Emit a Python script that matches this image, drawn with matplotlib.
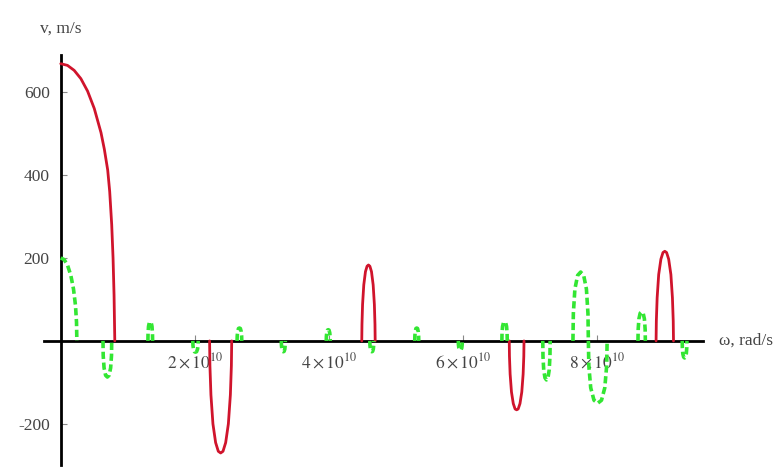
import matplotlib
matplotlib.use("Agg")
import matplotlib.pyplot as plt

plt.rcParams["font.family"] = ["Liberation Serif", "DejaVu Serif"]
plt.rcParams["mathtext.fontset"] = "stix"

# omega in units of 1e10 rad/s, v in m/s; one list per lobe
red_w = [
    [0, 0.1, 0.2, 0.3, 0.4, 0.5, 0.6, 0.65, 0.7, 0.73, 0.76, 0.78, 0.795, 0.806],
    [2.22, 2.225, 2.24, 2.27, 2.31, 2.35, 2.385, 2.42, 2.46, 2.50, 2.53, 2.545, 2.55],
    [4.49, 4.493, 4.502, 4.52, 4.545, 4.569, 4.59, 4.611, 4.635, 4.66, 4.678, 4.687, 4.69],
    [6.69, 6.693, 6.703, 6.723, 6.75, 6.777, 6.80, 6.823, 6.85, 6.877, 6.897, 6.907, 6.91],
    [8.88, 8.884, 8.896, 8.919, 8.952, 8.983, 9.01, 9.037, 9.068, 9.101, 9.124, 9.136, 9.14],
]
red_v = [
    [668, 664, 652, 632, 602, 560, 502, 462, 412, 360, 280, 200, 110, 0],
    [0, -60, -130, -200, -245, -266, -270, -266, -245, -200, -130, -60, 0],
    [0, 40, 88, 135, 167, 180, 183, 180, 167, 135, 88, 40, 0],
    [0, -37, -80, -123, -151, -164, -166, -164, -151, -123, -80, -37, 0],
    [0, 48, 104, 160, 197, 213, 216, 213, 197, 160, 104, 48, 0],
]

green_w = [
    [0, 0.05, 0.1, 0.15, 0.19, 0.22, 0.235, 0.24],
    [0.63, 0.633, 0.646, 0.669, 0.695, 0.721, 0.744, 0.757, 0.76],
    [1.30, 1.302, 1.309, 1.321, 1.335, 1.349, 1.361, 1.368, 1.37],
    [1.97, 1.972, 1.98, 1.994, 2.01, 2.026, 2.04, 2.048, 2.05],
    [2.63, 2.632, 2.639, 2.651, 2.665, 2.679, 2.691, 2.698, 2.70],
    [3.29, 3.292, 3.298, 3.308, 3.32, 3.332, 3.342, 3.348, 3.35],
    [3.96, 3.962, 3.968, 3.978, 3.99, 4.002, 4.012, 4.018, 4.02],
    [4.61, 4.612, 4.618, 4.628, 4.64, 4.652, 4.662, 4.668, 4.67],
    [5.28, 5.282, 5.288, 5.298, 5.31, 5.322, 5.332, 5.338, 5.34],
    [5.93, 5.932, 5.938, 5.948, 5.96, 5.972, 5.982, 5.988, 5.99],
    [6.58, 6.582, 6.59, 6.604, 6.62, 6.636, 6.65, 6.658, 6.66],
    [7.19, 7.193, 7.204, 7.223, 7.245, 7.267, 7.286, 7.297, 7.30],
    [7.64, 7.646, 7.669, 7.71, 7.755, 7.80, 7.841, 7.864, 7.87],
    [7.87, 7.877, 7.905, 7.954, 8.01, 8.066, 8.115, 8.143, 8.15],
    [8.61, 8.613, 8.624, 8.643, 8.665, 8.687, 8.706, 8.717, 8.72],
    [9.27, 9.272, 9.279, 9.291, 9.305, 9.319, 9.331, 9.338, 9.34],
]
green_v = [
    [200, 196, 183, 158, 125, 85, 45, 0],
    [0, -35, -65, -83, -87, -83, -65, -35, 0],
    [0, 18, 35, 44, 46, 44, 35, 18, 0],
    [0, -11, -20, -26, -27, -26, -20, -11, 0],
    [0, 12, 23, 30, 31, 30, 23, 12, 0],
    [0, -10, -20, -25, -26, -25, -20, -10, 0],
    [0, 11, 20, 26, 27, 26, 20, 11, 0],
    [0, -10, -20, -25, -26, -25, -20, -10, 0],
    [0, 12, 23, 30, 31, 30, 23, 12, 0],
    [0, -9, -17, -21, -22, -21, -17, -9, 0],
    [0, 18, 35, 44, 46, 44, 35, 18, 0],
    [0, -37, -70, -89, -94, -89, -70, -37, 0],
    [0, 66, 125, 158, 166, 158, 125, 66, 0],
    [0, -60, -113, -143, -150, -143, -113, -60, 0],
    [0, 28, 53, 67, 70, 67, 53, 28, 0],
    [0, -16, -31, -39, -41, -39, -31, -16, 0],
]

x_ticks = [2, 4, 6, 8]
x_labels = [r"$2\times10^{10}$", r"$4\times10^{10}$", r"$6\times10^{10}$", r"$8\times10^{10}$"]
y_ticks = [-200, 200, 400, 600]

fig = plt.figure(figsize=(7.78, 4.73), dpi=100)
ax = fig.add_axes([44 / 778, 8 / 473, 659 / 778, 410 / 473])
ax.set_xlim(-0.25, 9.58)
ax.set_ylim(-299, 689)

for w, v in zip(red_w, red_v):
    ax.plot(w, v, color="#d0142c", lw=2.0, solid_capstyle="round", zorder=3)
for w, v in zip(green_w, green_v):
    ax.plot(w, v, color="#33e633", lw=2.6, dashes=(2.0, 1.0), zorder=4)

# Mathematica-style axes crossing at the origin
for s in ("top", "right"):
    ax.spines[s].set_visible(False)
ax.spines["left"].set_position(("data", 0))
ax.spines["bottom"].set_position(("data", 0))
ax.spines["left"].set_linewidth(2.0)
ax.spines["bottom"].set_linewidth(2.0)
ax.spines["left"].set_zorder(2)
ax.spines["bottom"].set_zorder(2)

ax.set_xticks(x_ticks)
ax.set_xticklabels(x_labels)
ax.set_yticks(y_ticks)
ax.set_yticklabels([str(t) for t in y_ticks])
ax.tick_params(axis="both", direction="in", length=4, width=0.8,
               colors="#888888", labelcolor="#444444", labelsize=12.5)
ax.tick_params(axis="y", pad=8)
ax.tick_params(axis="x", pad=8)

ax.text(0, 1.065, "v, m/s", transform=ax.get_xaxis_transform(), ha="center",
        va="center", fontsize=12.5, color="#444444")
ax.text(1.024, 0, "ω, rad/s", transform=ax.get_yaxis_transform(), ha="left",
        va="center", fontsize=12.5, color="#444444")

fig.savefig("out.png", dpi=100)
